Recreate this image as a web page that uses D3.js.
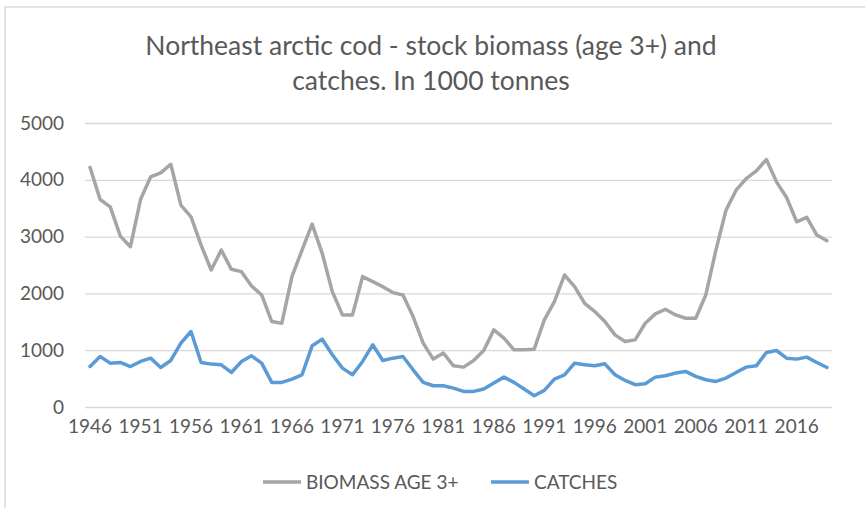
<!DOCTYPE html>
<html>
<head>
<meta charset="utf-8">
<script src="https://cdn.jsdelivr.net/npm/d3@7"></script>
<style>
  body { margin: 0; background: #ffffff; }
  svg { display: block; font-family: Lato, "Open Sans", sans-serif; }
</style>
</head>
<body>
<div id="chart"></div>
<script>

// chart data (1000 tonnes)
const years = d3.range(1946, 2020);
const biomass = [
  4216, 3653, 3524, 3009, 2822, 3653, 4051, 4121, 4274, 3554,
  3349, 2851, 2412, 2763, 2424, 2383, 2131, 1973, 1505, 1475,
  2295, 2763, 3220, 2705, 2031, 1621, 1621, 2295, 2207, 2119,
  2014, 1973, 1592, 1124, 843, 950, 725, 702, 819, 995,
  1358, 1211, 1007, 1007, 1018, 1533, 1856, 2324, 2119, 1826,
  1680, 1505, 1270, 1153, 1182, 1475, 1639, 1721, 1621, 1562,
  1562, 1973, 2763, 3466, 3817, 4022, 4157, 4356, 3964, 3688,
  3261, 3338, 3027, 2927
];
const catches = [
  713, 889, 772, 784, 713, 802, 860, 696, 819, 1124,
  1329, 784, 755, 743, 608, 802, 901, 772, 433, 433,
  491, 567, 1077, 1194, 919, 684, 567, 802, 1095, 819,
  860, 889, 655, 433, 374, 374, 333, 275, 275, 316,
  421, 526, 433, 316, 198, 292, 491, 567, 772, 743,
  725, 760, 567, 468, 392, 409, 526, 550, 597, 626,
  538, 480, 450, 509, 608, 702, 725, 960, 995, 860,
  843, 878, 784, 696
];
const yTicks = [0, 1000, 2000, 3000, 4000, 5000];
const seriesNames = ["BIOMASS AGE 3+", "CATCHES"];
const colors = ["#a5a5a5", "#5b9bd5"];

const width = 865;
const height = 508;
const margin = {left: 85, right: 33, top: 123, bottom: 101};

const svg = d3.select("#chart")
  .append("svg")
  .attr("width", width)
  .attr("height", height);

// frame of the chart area
svg.append("path")
  .attr("d", `M5,${height} V7 H${width}`)
  .attr("fill", "none")
  .attr("stroke", "#d9d9d9")
  .attr("stroke-width", 1.5);

// title
const title = svg.append("text")
  .attr("text-anchor", "middle")
  .attr("fill", "#595959")
  .attr("font-size", "26.5px");
title.append("tspan").attr("x", 431).attr("y", 55)
  .text("Northeast arctic cod - stock biomass (age 3+) and");
title.append("tspan").attr("x", 431).attr("y", 90)
  .text("catches. In 1000 tonnes");

// scales
let xScale = d3.scaleBand()
  .domain(years)
  .range([margin.left, width - margin.right]);

let yScale = d3.scaleLinear()
  .domain([0, 5000])
  .range([height - margin.bottom, margin.top]);

const xPos = (d) => xScale(d) + xScale.bandwidth() / 2;

// gridlines + y labels
const yAxis = svg.append("g")
  .attr("transform", `translate(${margin.left}, 0)`)
  .call(d3.axisLeft(yScale)
    .tickValues(yTicks)
    .tickFormat(d3.format("d"))
    .tickSize(-(width - margin.left - margin.right))
    .tickPadding(21));
yAxis.select(".domain").remove();
yAxis.selectAll("line").attr("stroke", "#d9d9d9").attr("stroke-width", 1.3);
yAxis.selectAll("text")
  .attr("fill", "#595959")
  .attr("font-size", "19px")
  .attr("font-family", "Lato, sans-serif");

// x labels, every 5th year
const xAxis = svg.append("g")
  .attr("transform", `translate(0, ${height - margin.bottom})`)
  .call(d3.axisBottom(xScale)
    .tickValues(years.filter((d, i) => i % 5 === 0))
    .tickSize(0)
    .tickPadding(13));
xAxis.select(".domain").remove();
xAxis.selectAll("text")
  .attr("fill", "#595959")
  .attr("font-size", "19px")
  .attr("font-family", "Lato, sans-serif");

// lines
const line = d3.line()
  .x((d, i) => xPos(years[i]))
  .y((d) => yScale(d));

[biomass, catches].forEach((s, k) => {
  svg.append("path")
    .datum(s)
    .attr("fill", "none")
    .attr("stroke", colors[k])
    .attr("stroke-width", 3.5)
    .attr("stroke-linejoin", "round")
    .attr("stroke-linecap", "round")
    .attr("d", line);
});

// legend
const legendX = [263, 491];
seriesNames.forEach((name, k) => {
  const g = svg.append("g").attr("transform", `translate(${legendX[k]}, 482)`);
  g.append("line")
    .attr("x1", 0).attr("x2", 38)
    .attr("stroke", colors[k])
    .attr("stroke-width", 3.5);
  g.append("text")
    .attr("x", 43)
    .attr("y", 7)
    .attr("fill", "#595959")
    .attr("font-size", "19px")
    .text(name);
});

</script>
</body>
</html>
